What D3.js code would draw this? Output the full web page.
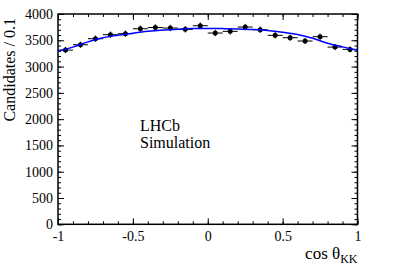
<!DOCTYPE html>
<html>
<head>
<meta charset="utf-8">
<script src="https://cdn.jsdelivr.net/npm/d3@7"></script>
<style>
  body { margin: 0; background: #fff; }
  svg text { font-family: "Liberation Serif", "Times New Roman", Times, "DejaVu Serif", serif !important; fill: #000; }
</style>
</head>
<body>
<svg width="397" height="268"></svg>
<script>
// histogram bins (width 0.1)
const binCenters = [-0.95, -0.85, -0.75, -0.65, -0.55, -0.45, -0.35, -0.25, -0.15, -0.05,
                    0.05, 0.15, 0.25, 0.35, 0.45, 0.55, 0.65, 0.75, 0.85, 0.95];
const counts = [3314, 3415, 3530, 3606, 3625, 3720, 3743, 3733, 3708, 3777,
                3638, 3670, 3752, 3700, 3594, 3549, 3486, 3568, 3371, 3327];
const errors = [58, 58, 59, 60, 60, 61, 61, 61, 61, 61,
                60, 61, 61, 61, 60, 60, 59, 60, 58, 58];
const binHalfWidth = 0.05;

// fit curve
const fitX = [-1, -0.9, -0.8, -0.7, -0.6, -0.5, -0.4, -0.3, -0.2, -0.1, 0,
              0.1, 0.2, 0.3, 0.4, 0.5, 0.6, 0.7, 0.8, 0.9, 1];
const fitY = [3290, 3370, 3470, 3550, 3595, 3635, 3670, 3695, 3712, 3722, 3725,
              3722, 3715, 3705, 3688, 3655, 3610, 3540, 3445, 3375, 3308];

const xMajor = [-1, -0.5, 0, 0.5, 1];
const yMajor = [0, 500, 1000, 1500, 2000, 2500, 3000, 3500, 4000];
const xMinor = d3.range(-10, 11).map(d => d / 10);
const yMinor = d3.range(0, 41).map(d => d * 100);

const W = 397, H = 268;
const margin = { left: 58, right: 39.5, top: 14, bottom: 43.7 };
const width = W - margin.left - margin.right;
const height = H - margin.top - margin.bottom;

const svg = d3.select("svg");
const g = svg.append("g").attr("transform", `translate(${margin.left},${margin.top})`);

const x = d3.scaleLinear().domain([-1, 1]).range([0, width]);
const y = d3.scaleLinear().domain([0, 4000]).range([height, 0]);

// axes: ticks point inward
function styleAxis(sel) {
  sel.attr("font-family", null);
  sel.select(".domain").remove();
  sel.selectAll(".tick line").attr("stroke", "#000").attr("stroke-width", 1);
  sel.selectAll("text").attr("font-size", 14);
}

g.append("g").attr("transform", `translate(0,${height})`)
  .call(d3.axisBottom(x).tickValues(xMinor).tickSize(-3).tickFormat(""))
  .call(styleAxis);
g.append("g").attr("transform", `translate(0,${height})`)
  .call(d3.axisBottom(x).tickValues(xMajor).tickSize(-6).tickPadding(7).tickFormat(d => String(d)))
  .call(styleAxis);
g.append("g")
  .call(d3.axisTop(x).tickValues(xMinor).tickSize(-3).tickFormat(""))
  .call(styleAxis);
g.append("g")
  .call(d3.axisTop(x).tickValues(xMajor).tickSize(-6).tickFormat(""))
  .call(styleAxis);

g.append("g")
  .call(d3.axisLeft(y).tickValues(yMinor).tickSize(-3).tickFormat(""))
  .call(styleAxis);
g.append("g")
  .call(d3.axisLeft(y).tickValues(yMajor).tickSize(-6).tickPadding(5).tickFormat(d => String(d)))
  .call(styleAxis);
g.append("g").attr("transform", `translate(${width},0)`)
  .call(d3.axisRight(y).tickValues(yMinor).tickSize(-3).tickFormat(""))
  .call(styleAxis);
g.append("g").attr("transform", `translate(${width},0)`)
  .call(d3.axisRight(y).tickValues(yMajor).tickSize(-6).tickFormat(""))
  .call(styleAxis);

// frame
g.append("rect")
  .attr("width", width).attr("height", height)
  .attr("fill", "none").attr("stroke", "#000").attr("stroke-width", 1.5);

// data points with error bars
const pts = g.append("g").selectAll("g").data(binCenters).enter().append("g");
pts.append("line")
  .attr("x1", (d) => x(d - binHalfWidth)).attr("x2", (d) => x(d + binHalfWidth))
  .attr("y1", (d, i) => y(counts[i])).attr("y2", (d, i) => y(counts[i]))
  .attr("stroke", "#000").attr("stroke-width", 1);
pts.append("line")
  .attr("x1", (d) => x(d)).attr("x2", (d) => x(d))
  .attr("y1", (d, i) => y(counts[i] - errors[i])).attr("y2", (d, i) => y(counts[i] + errors[i]))
  .attr("stroke", "#000").attr("stroke-width", 1);

// fit
const line = d3.line()
  .x((d, i) => x(fitX[i]))
  .y((d) => y(d))
  .curve(d3.curveMonotoneX);
g.append("path")
  .datum(fitY)
  .attr("d", line)
  .attr("fill", "none")
  .attr("stroke", "#0000ff")
  .attr("stroke-width", 1.5);

pts.append("circle")
  .attr("cx", (d) => x(d)).attr("cy", (d, i) => y(counts[i]))
  .attr("r", 2.5).attr("fill", "#000");

// titles
svg.append("text")
  .attr("transform", "translate(15,18) rotate(-90)")
  .attr("text-anchor", "end")
  .attr("font-size", 16)
  .text("Candidates / 0.1");

const xt = svg.append("text")
  .attr("x", margin.left + width)
  .attr("y", 259)
  .attr("text-anchor", "end")
  .attr("font-size", 17);
xt.append("tspan").text("cos θ");
xt.append("tspan").attr("font-size", 12).attr("dy", 4).text("KK");

svg.append("text").attr("x", 140).attr("y", 131).attr("font-size", 16).text("LHCb");
svg.append("text").attr("x", 140).attr("y", 148).attr("font-size", 16).text("Simulation");
</script>
</body>
</html>
